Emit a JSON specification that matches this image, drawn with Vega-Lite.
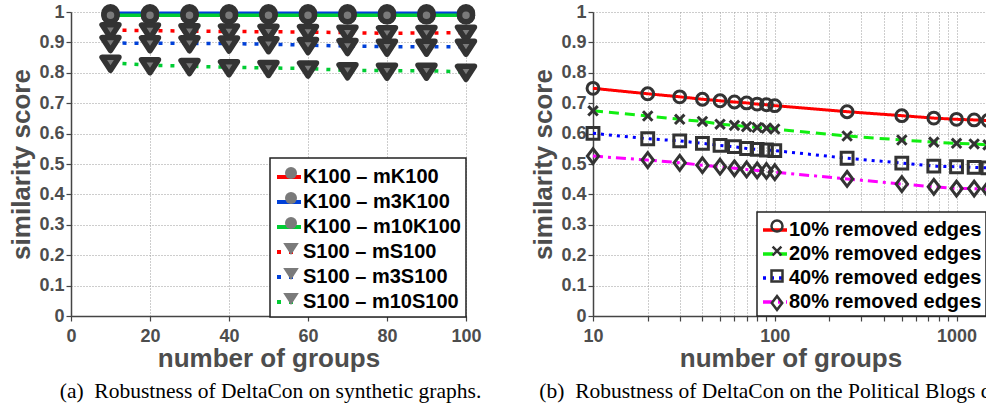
{
  "$schema": "https://vega.github.io/schema/vega-lite/v6.json",
  "padding": {"left": 8, "top": 3, "right": 0, "bottom": 0},
  "bounds": "flush",
  "spacing": 127,
  "resolve": {"scale": {"color": "independent", "strokeDash": "independent", "shape": "independent"}, "legend": {"color": "independent", "strokeDash": "independent", "shape": "independent"}},
  "datasets": {
    "synthetic": [
      {"series": "K100 – mK100", "groups": 10, "score": 0.99},
      {"series": "K100 – mK100", "groups": 20, "score": 0.99},
      {"series": "K100 – mK100", "groups": 30, "score": 0.99},
      {"series": "K100 – mK100", "groups": 40, "score": 0.99},
      {"series": "K100 – mK100", "groups": 50, "score": 0.99},
      {"series": "K100 – mK100", "groups": 60, "score": 0.99},
      {"series": "K100 – mK100", "groups": 70, "score": 0.99},
      {"series": "K100 – mK100", "groups": 80, "score": 0.99},
      {"series": "K100 – mK100", "groups": 90, "score": 0.99},
      {"series": "K100 – mK100", "groups": 100, "score": 0.99},
      {"series": "K100 – m3K100", "groups": 10, "score": 0.996},
      {"series": "K100 – m3K100", "groups": 20, "score": 0.996},
      {"series": "K100 – m3K100", "groups": 30, "score": 0.996},
      {"series": "K100 – m3K100", "groups": 40, "score": 0.996},
      {"series": "K100 – m3K100", "groups": 50, "score": 0.996},
      {"series": "K100 – m3K100", "groups": 60, "score": 0.996},
      {"series": "K100 – m3K100", "groups": 70, "score": 0.996},
      {"series": "K100 – m3K100", "groups": 80, "score": 0.996},
      {"series": "K100 – m3K100", "groups": 90, "score": 0.996},
      {"series": "K100 – m3K100", "groups": 100, "score": 0.996},
      {"series": "K100 – m10K100", "groups": 10, "score": 0.989},
      {"series": "K100 – m10K100", "groups": 20, "score": 0.989},
      {"series": "K100 – m10K100", "groups": 30, "score": 0.989},
      {"series": "K100 – m10K100", "groups": 40, "score": 0.989},
      {"series": "K100 – m10K100", "groups": 50, "score": 0.989},
      {"series": "K100 – m10K100", "groups": 60, "score": 0.989},
      {"series": "K100 – m10K100", "groups": 70, "score": 0.989},
      {"series": "K100 – m10K100", "groups": 80, "score": 0.989},
      {"series": "K100 – m10K100", "groups": 90, "score": 0.989},
      {"series": "K100 – m10K100", "groups": 100, "score": 0.989},
      {"series": "S100 – mS100", "groups": 10, "score": 0.940},
      {"series": "S100 – mS100", "groups": 20, "score": 0.939},
      {"series": "S100 – mS100", "groups": 30, "score": 0.937},
      {"series": "S100 – mS100", "groups": 40, "score": 0.936},
      {"series": "S100 – mS100", "groups": 50, "score": 0.935},
      {"series": "S100 – mS100", "groups": 60, "score": 0.934},
      {"series": "S100 – mS100", "groups": 70, "score": 0.932},
      {"series": "S100 – mS100", "groups": 80, "score": 0.930},
      {"series": "S100 – mS100", "groups": 90, "score": 0.931},
      {"series": "S100 – mS100", "groups": 100, "score": 0.932},
      {"series": "S100 – m3S100", "groups": 10, "score": 0.898},
      {"series": "S100 – m3S100", "groups": 20, "score": 0.897},
      {"series": "S100 – m3S100", "groups": 30, "score": 0.897},
      {"series": "S100 – m3S100", "groups": 40, "score": 0.896},
      {"series": "S100 – m3S100", "groups": 50, "score": 0.894},
      {"series": "S100 – m3S100", "groups": 60, "score": 0.891},
      {"series": "S100 – m3S100", "groups": 70, "score": 0.888},
      {"series": "S100 – m3S100", "groups": 80, "score": 0.886},
      {"series": "S100 – m3S100", "groups": 90, "score": 0.886},
      {"series": "S100 – m3S100", "groups": 100, "score": 0.886},
      {"series": "S100 – m10S100", "groups": 10, "score": 0.833},
      {"series": "S100 – m10S100", "groups": 20, "score": 0.825},
      {"series": "S100 – m10S100", "groups": 30, "score": 0.822},
      {"series": "S100 – m10S100", "groups": 40, "score": 0.818},
      {"series": "S100 – m10S100", "groups": 50, "score": 0.816},
      {"series": "S100 – m10S100", "groups": 60, "score": 0.814},
      {"series": "S100 – m10S100", "groups": 70, "score": 0.808},
      {"series": "S100 – m10S100", "groups": 80, "score": 0.807},
      {"series": "S100 – m10S100", "groups": 90, "score": 0.807},
      {"series": "S100 – m10S100", "groups": 100, "score": 0.803}
    ],
    "blogs": [
      {"series": "10% removed edges", "groups": 10, "score": 0.749},
      {"series": "10% removed edges", "groups": 20, "score": 0.731},
      {"series": "10% removed edges", "groups": 30, "score": 0.721},
      {"series": "10% removed edges", "groups": 40, "score": 0.713},
      {"series": "10% removed edges", "groups": 50, "score": 0.708},
      {"series": "10% removed edges", "groups": 60, "score": 0.704},
      {"series": "10% removed edges", "groups": 70, "score": 0.701},
      {"series": "10% removed edges", "groups": 80, "score": 0.697},
      {"series": "10% removed edges", "groups": 90, "score": 0.695},
      {"series": "10% removed edges", "groups": 100, "score": 0.692},
      {"series": "10% removed edges", "groups": 250, "score": 0.672},
      {"series": "10% removed edges", "groups": 500, "score": 0.659},
      {"series": "10% removed edges", "groups": 750, "score": 0.651},
      {"series": "10% removed edges", "groups": 1000, "score": 0.647},
      {"series": "10% removed edges", "groups": 1250, "score": 0.645},
      {"series": "10% removed edges", "groups": 1490, "score": 0.643},
      {"series": "20% removed edges", "groups": 10, "score": 0.675},
      {"series": "20% removed edges", "groups": 20, "score": 0.658},
      {"series": "20% removed edges", "groups": 30, "score": 0.647},
      {"series": "20% removed edges", "groups": 40, "score": 0.640},
      {"series": "20% removed edges", "groups": 50, "score": 0.631},
      {"series": "20% removed edges", "groups": 60, "score": 0.627},
      {"series": "20% removed edges", "groups": 70, "score": 0.623},
      {"series": "20% removed edges", "groups": 80, "score": 0.620},
      {"series": "20% removed edges", "groups": 90, "score": 0.618},
      {"series": "20% removed edges", "groups": 100, "score": 0.615},
      {"series": "20% removed edges", "groups": 250, "score": 0.592},
      {"series": "20% removed edges", "groups": 500, "score": 0.579},
      {"series": "20% removed edges", "groups": 750, "score": 0.572},
      {"series": "20% removed edges", "groups": 1000, "score": 0.568},
      {"series": "20% removed edges", "groups": 1250, "score": 0.566},
      {"series": "20% removed edges", "groups": 1490, "score": 0.563},
      {"series": "40% removed edges", "groups": 10, "score": 0.601},
      {"series": "40% removed edges", "groups": 20, "score": 0.583},
      {"series": "40% removed edges", "groups": 30, "score": 0.576},
      {"series": "40% removed edges", "groups": 40, "score": 0.568},
      {"series": "40% removed edges", "groups": 50, "score": 0.561},
      {"series": "40% removed edges", "groups": 60, "score": 0.557},
      {"series": "40% removed edges", "groups": 70, "score": 0.551},
      {"series": "40% removed edges", "groups": 80, "score": 0.548},
      {"series": "40% removed edges", "groups": 90, "score": 0.546},
      {"series": "40% removed edges", "groups": 100, "score": 0.544},
      {"series": "40% removed edges", "groups": 250, "score": 0.519},
      {"series": "40% removed edges", "groups": 500, "score": 0.503},
      {"series": "40% removed edges", "groups": 750, "score": 0.493},
      {"series": "40% removed edges", "groups": 1000, "score": 0.491},
      {"series": "40% removed edges", "groups": 1250, "score": 0.489},
      {"series": "40% removed edges", "groups": 1490, "score": 0.487},
      {"series": "80% removed edges", "groups": 10, "score": 0.526},
      {"series": "80% removed edges", "groups": 20, "score": 0.513},
      {"series": "80% removed edges", "groups": 30, "score": 0.504},
      {"series": "80% removed edges", "groups": 40, "score": 0.496},
      {"series": "80% removed edges", "groups": 50, "score": 0.491},
      {"series": "80% removed edges", "groups": 60, "score": 0.486},
      {"series": "80% removed edges", "groups": 70, "score": 0.482},
      {"series": "80% removed edges", "groups": 80, "score": 0.479},
      {"series": "80% removed edges", "groups": 90, "score": 0.477},
      {"series": "80% removed edges", "groups": 100, "score": 0.473},
      {"series": "80% removed edges", "groups": 250, "score": 0.451},
      {"series": "80% removed edges", "groups": 500, "score": 0.434},
      {"series": "80% removed edges", "groups": 750, "score": 0.425},
      {"series": "80% removed edges", "groups": 1000, "score": 0.419},
      {"series": "80% removed edges", "groups": 1250, "score": 0.419},
      {"series": "80% removed edges", "groups": 1490, "score": 0.417}
    ]
  },
  "hconcat": [
    {
      "width": 395,
      "height": 304,
      "data": {"name": "synthetic"},
      "title": {"text": "(a)\u2002Robustness of DeltaCon on synthetic graphs.", "orient": "bottom", "frame": "group", "dx": 2, "font": "Liberation Serif", "fontSize": 21.5, "fontWeight": "normal", "color": "#000", "offset": 10},
      "encoding": {
        "x": {"field": "groups", "type": "quantitative", "scale": {"domain": [0, 100], "nice": false},
              "axis": {"values": [0, 20, 40, 60, 80, 100], "title": "number of groups"}},
        "y": {"field": "score", "type": "quantitative", "scale": {"domain": [0, 1], "nice": false},
              "axis": {"values": [0, 0.1, 0.2, 0.3, 0.4, 0.5, 0.6, 0.7, 0.8, 0.9, 1], "format": ".1~f", "title": "similarity score", "labelPadding": 2}}
      },
      "layer": [
        {
          "mark": {"type": "line", "strokeWidth": 3.5, "strokeCap": "butt"},
          "encoding": {
            "color": {"field": "series", "type": "nominal",
              "scale": {"domain": ["K100 – mK100", "K100 – m3K100", "K100 – m10K100", "S100 – mS100", "S100 – m3S100", "S100 – m10S100"],
                        "range": ["#ff0000", "#0040d8", "#00cc33", "#ff0000", "#0040d8", "#00cc33"]},
              "legend": {"orient": "none", "legendX": 199, "legendY": 146, "title": null, "symbolType": "stroke", "symbolSize": 576, "symbolStrokeWidth": 4, "labelOffset": 0, "labelLimit": 400, "fillColor": "#ffffff", "strokeColor": "#222222", "padding": 5, "rowPadding": 1, "zindex": 1}},
            "strokeDash": {"field": "series", "type": "nominal",
              "scale": {"domain": ["K100 – mK100", "K100 – m3K100", "K100 – m10K100", "S100 – mS100", "S100 – m3S100", "S100 – m10S100"],
                        "range": [[1, 0], [1, 0], [1, 0], [4, 8], [4, 8], [4, 8]]},
              "legend": {"orient": "none", "legendX": 199, "legendY": 146, "title": null, "symbolType": "stroke", "symbolSize": 576, "symbolStrokeWidth": 4, "labelOffset": 0, "labelLimit": 400, "fillColor": "#ffffff", "strokeColor": "#222222", "padding": 5, "rowPadding": 1, "zindex": 1}}
          }
        },
        {
          "mark": {"type": "point", "filled": true, "fill": "#7a7a7a", "stroke": "#333333", "strokeWidth": 5.5, "strokeJoin": "round", "size": 169, "opacity": 1},
          "encoding": {
            "shape": {"field": "series", "type": "nominal", "sort": null,
              "scale": {"range": ["circle", "circle", "circle", "M-1.3,-0.85L1.3,-0.85L0,1.15Z", "M-1.3,-0.85L1.3,-0.85L0,1.15Z", "M-1.3,-0.85L1.3,-0.85L0,1.15Z"]},
              "legend": {"orient": "none", "legendX": 205, "legendY": 146, "title": null, "symbolSize": 144, "symbolStrokeWidth": 1.5, "symbolFillColor": "#7a7a7a", "symbolStrokeColor": "#333333", "labelOpacity": 0, "labelLimit": 400, "padding": 5, "rowPadding": 5, "zindex": 2}}
          }
        }
      ]
    },
    {
      "width": 395,
      "height": 304,
      "data": {"name": "blogs"},
      "title": {"text": "(b)\u2002Robustness of DeltaCon on the Political Blogs dataset.", "orient": "bottom", "frame": "group", "dx": 2, "font": "Liberation Serif", "fontSize": 21.5, "fontWeight": "normal", "color": "#000", "offset": 10},
      "encoding": {
        "x": {"field": "groups", "type": "quantitative", "scale": {"type": "log", "domain": [10, 1490], "nice": false},
              "axis": {"values": [10, 20, 30, 40, 50, 60, 70, 80, 90, 100, 200, 300, 400, 500, 600, 700, 800, 900, 1000], "format": "d",
                       "labelExpr": "datum.value == 10 || datum.value == 100 || datum.value == 1000 ? datum.label : ''", "title": "number of groups"}},
        "y": {"field": "score", "type": "quantitative", "scale": {"domain": [0, 1], "nice": false},
              "axis": {"values": [0, 0.1, 0.2, 0.3, 0.4, 0.5, 0.6, 0.7, 0.8, 0.9, 1], "format": ".1~f", "title": "similarity score", "labelPadding": 2}}
      },
      "layer": [
        {
          "mark": {"type": "line", "strokeWidth": 3, "strokeCap": "butt"},
          "encoding": {
            "color": {"field": "series", "type": "nominal",
              "scale": {"domain": ["10% removed edges", "20% removed edges", "40% removed edges", "80% removed edges"],
                        "range": ["#ff0000", "#11ee11", "#0000ff", "#ff00ff"]},
              "legend": {"orient": "none", "legendX": 164, "legendY": 200, "title": null, "symbolType": "stroke", "symbolSize": 576, "symbolStrokeWidth": 3.5, "labelOffset": 0, "labelLimit": 400, "fillColor": "#ffffff", "strokeColor": "#222222", "padding": 4, "rowPadding": 0, "zindex": 1}},
            "strokeDash": {"field": "series", "type": "nominal",
              "scale": {"domain": ["10% removed edges", "20% removed edges", "40% removed edges", "80% removed edges"],
                        "range": [[1, 0], [10, 6], [3, 5], [10, 5, 3, 5]]},
              "legend": {"orient": "none", "legendX": 164, "legendY": 200, "title": null, "symbolType": "stroke", "symbolSize": 576, "symbolStrokeWidth": 3.5, "labelOffset": 0, "labelLimit": 400, "fillColor": "#ffffff", "strokeColor": "#222222", "padding": 4, "rowPadding": 0, "zindex": 1}}
          }
        },
        {
          "mark": {"type": "point", "filled": false, "stroke": "#333333", "strokeWidth": 3, "size": 140, "opacity": 1},
          "encoding": {
            "shape": {"field": "series", "type": "nominal", "sort": null,
              "scale": {"range": ["circle", "M-0.8,-0.8L0.8,0.8M-0.8,0.8L0.8,-0.8", "square", "M0,-1.25L0.95,0L0,1.25L-0.95,0Z"]},
              "legend": {"orient": "none", "legendX": 170, "legendY": 200, "title": null, "symbolSize": 121, "symbolStrokeWidth": 2.5, "symbolStrokeColor": "#333333", "symbolOpacity": 1, "labelOpacity": 0, "labelLimit": 400, "padding": 4, "rowPadding": 4, "zindex": 3}}
          }
        }
      ]
    }
  ],
  "config": {
    "view": {"stroke": null},
    "font": "Liberation Sans",
    "axis": {
      "labelFont": "Liberation Sans", "labelFontWeight": "bold", "labelFontSize": 18, "labelColor": "#4d4d4d",
      "titleFont": "Liberation Sans", "titleFontWeight": "bold", "titleFontSize": 26, "titleColor": "#4d4d4d",
      "domainColor": "#444444", "domainWidth": 1.5, "tickColor": "#444444", "tickWidth": 1.2, "tickSize": 5,
      "grid": true, "gridColor": "#9a9a9a", "gridDash": [1, 2], "gridWidth": 1, "gridOpacity": 1
    },
    "axisX": {"titlePadding": 0, "labelPadding": 6, "labelFlush": false, "labelOverlap": false},
    "axisY": {"titlePadding": 4},
    "legend": {"labelFont": "Liberation Sans", "labelFontWeight": "bold", "labelFontSize": 20, "labelColor": "#000000", "strokeWidth": 1.5}
  }
}
